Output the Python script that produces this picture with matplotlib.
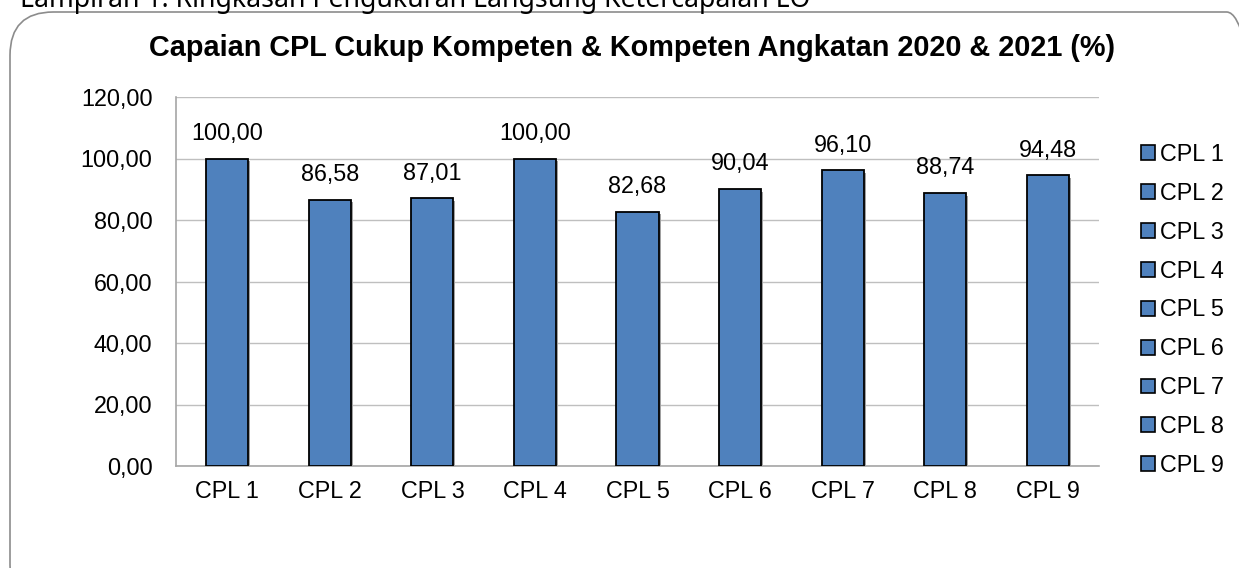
import matplotlib
matplotlib.use("Agg")
import matplotlib.pyplot as plt
from matplotlib.patches import FancyBboxPatch, Patch

categories = ["CPL 1", "CPL 2", "CPL 3", "CPL 4", "CPL 5", "CPL 6", "CPL 7", "CPL 8", "CPL 9"]
values = [100.00, 86.58, 87.01, 100.00, 82.68, 90.04, 96.10, 88.74, 94.48]
yticks = [0, 20, 40, 60, 80, 100, 120]
title = "Capaian CPL Cukup Kompeten & Kompeten Angkatan 2020 & 2021 (%)"
header = "Lampiran 1. Ringkasan Pengukuran Langsung Ketercapaian LO"

def fmt(v):
    return f"{v:.2f}".replace(".", ",")

plt.rcParams['font.family'] = ['Liberation Sans', 'DejaVu Sans']
W, H = 1239, 568
fig = plt.figure(figsize=(W/100, H/100), dpi=100)

# rounded border
box = FancyBboxPatch((10/W, -40/H), 1260/W, (H-12+40)/H,
                     boxstyle="round,pad=0,rounding_size=0.035",
                     transform=fig.transFigure, fill=False,
                     edgecolor="#8c8c8c", linewidth=1.2, mutation_aspect=W/H)
fig.patches.append(box)

fig.text(20/W, 1 - 7/H, header, fontsize=19.2, family=['Noto Sans', 'DejaVu Sans'],
         va="baseline", ha="left", color="black")
fig.text(632/W, 1 - 48/H, title, fontsize=20.8, fontweight="bold", ha="center", va="center")

ax = fig.add_axes([176/W, 1 - 466/H, (1099-176)/W, (466-97)/H])
x = list(range(len(categories)))
color = "#4f81bd"
fs = 16.8
# shadow
ax.bar([i + 0.02 for i in x], values, width=0.41, color="#a0a0a0", zorder=2,
       bottom=-0.8)
bars = ax.bar(x, values, width=0.41, color=color, edgecolor="black", linewidth=1.3, zorder=3)
for i, v in zip(x, values):
    ax.text(i, v + 4.5, fmt(v), ha="center", va="bottom", fontsize=fs)

ax.set_xlim(-0.5, len(categories) - 0.5)
ax.set_ylim(0, 120)
ax.set_yticks(yticks)
ax.set_yticklabels([fmt(t) for t in yticks], fontsize=fs)
ax.set_xticks(x)
ax.set_xticklabels(categories, fontsize=fs)
ax.tick_params(axis="x", length=0, pad=10)
ax.tick_params(axis="y", length=0, pad=17)
ax.yaxis.grid(True, color="#bfbfbf", linewidth=1, zorder=0)
ax.set_axisbelow(True)
for s in ["top", "right"]:
    ax.spines[s].set_visible(False)
for s in ["left", "bottom"]:
    ax.spines[s].set_color("#a6a6a6")
    ax.spines[s].set_linewidth(1.2)

handles = [Patch(facecolor=color, edgecolor="black", linewidth=1.2, label=c) for c in categories]
leg = fig.legend(handles=handles, loc="upper left", bbox_to_anchor=(1141/W, 1 - 143/H),
                 frameon=False, fontsize=fs, handlelength=0.6, handleheight=0.6,
                 handletextpad=0.2, labelspacing=0.68, borderaxespad=0, borderpad=0)

fig.savefig("out.png", dpi=100)
